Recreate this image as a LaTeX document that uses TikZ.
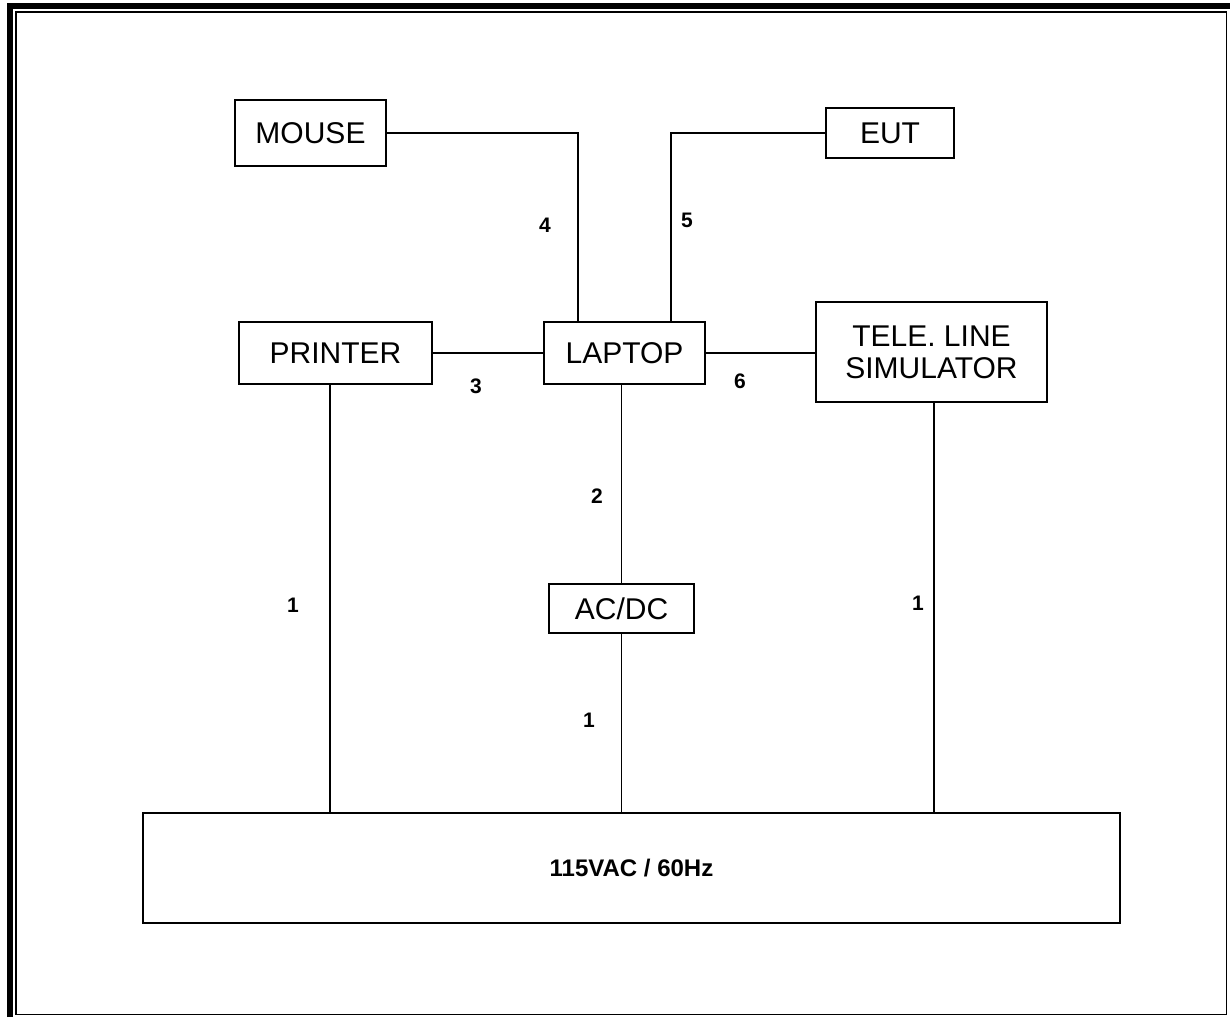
\documentclass[tikz,border=0pt]{standalone}
\usepackage{fontspec}
\setmainfont{Liberation Sans}
\usepackage{tikz}
\usetikzlibrary{positioning, calc}

\begin{document}
\begin{tikzpicture}[
    x=0.5pt, y=-0.5pt,
    unit/.style={
        rectangle, draw=black, line width=1pt,
        inner sep=0pt, align=center,
        font=\fontsize{15pt}{16pt}\selectfont
    },
    mains/.style={
        rectangle, draw=black, line width=1pt,
        inner sep=0pt,
        minimum width=488.5pt, minimum height=55pt,
        font=\fontsize{12pt}{14pt}\selectfont\bfseries
    },
    cable/.style={draw=black, line width=0.8pt},
    cablenum/.style={font=\fontsize{10.5pt}{12pt}\selectfont\bfseries, inner sep=0pt},
]

\useasboundingbox (0,0) rectangle (1230,1017);

% ---------- Frame ----------
\draw[line width=3pt] (10,1017) -- (10,5.5) -- (1230,5.5);
\draw[line width=0.9pt] (15.8,11.7) rectangle (1226.5,1014.5);

% ---------- Units ----------
\node[unit, minimum width=75.5pt, minimum height=33pt] (mouse) at (310.5,133) {MOUSE};
\node[unit, minimum width=64pt, minimum height=25pt] (eut) at (890,133) {\raisebox{-2pt}{EUT}};
\node[unit, minimum width=96.5pt, minimum height=31pt] (printer) at (335.5,353) {PRINTER};
\node[unit, minimum width=80.5pt, minimum height=31pt] (laptop) at (624.5,353) {LAPTOP};
\node[unit, minimum width=115.5pt, minimum height=50pt] (tele) at (931.5,352) {TELE. LINE\\SIMULATOR};
\node[unit, minimum width=72.5pt, minimum height=24.5pt] (acdc) at (621.5,608.5) {AC/DC};

% ---------- Power source ----------
\node[mains] (supply) at (631.5,868) {115VAC / 60Hz};

% ---------- Cables ----------
\draw[cable] (mouse.east) -| ([xshift=-23.25pt]laptop.north);
\draw[cable] (eut.west) -| ([xshift=23.25pt]laptop.north);
\draw[cable] (printer.east) -- (laptop.west);
\draw[cable] (laptop.east) -- (laptop.east -| tele.west);
\draw[cable] (acdc.north) -- (acdc.north |- laptop.south);
\draw[cable] (acdc.south) -- (acdc.south |- supply.north);
\draw[cable] ([xshift=-2.75pt]printer.south) -- ([xshift=-2.75pt]printer.south |- supply.north);
\draw[cable] ([xshift=1.25pt]tele.south) -- ([xshift=1.25pt]tele.south |- supply.north);

% ---------- Cable numbers ----------
\node[cablenum] (num4) at (545,225) {4};
\node[cablenum] (num5) at (687,220) {5};
\node[cablenum] (num3) at (476,386) {3};
\node[cablenum] (num6) at (740,381) {6};
\node[cablenum] (num2) at (597,496) {2};
\node[cablenum] (num1a) at (293,605) {1};
\node[cablenum] (num1b) at (589,720) {1};
\node[cablenum] (num1c) at (918,603) {1};

\end{tikzpicture}
\end{document}
